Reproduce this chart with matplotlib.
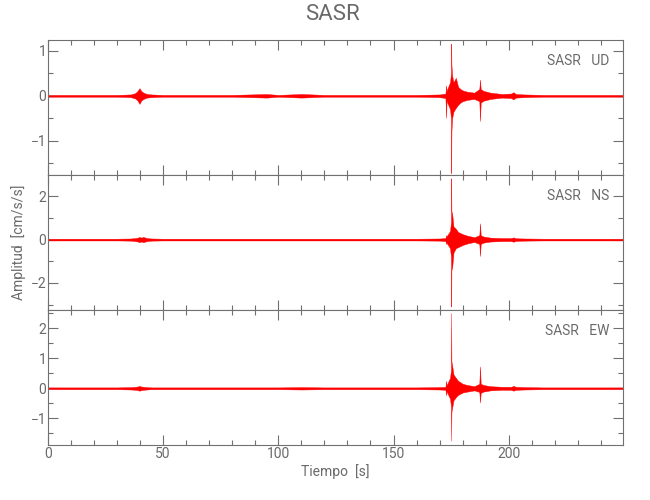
import matplotlib
matplotlib.use("Agg")
import matplotlib.pyplot as plt
from matplotlib.ticker import MultipleLocator, FixedLocator
import numpy as np

# envelope of each trace (time [s], upper / lower amplitude [cm/s/s])
t = [0, 10, 20, 30, 36, 38, 39, 39.8, 40.5, 41.5, 43, 45, 50, 60, 80, 95, 100, 110, 120,
     140, 160, 170, 172.5, 172.8, 173.0, 173.3, 174.5, 174.9, 175.0, 175.1, 175.4, 176,
     177, 178, 179, 180, 182, 185, 187.2, 187.5, 187.8, 189, 192, 197, 201, 202, 203,
     207, 215, 230, 249.5]

ud_top = [0.02, 0.02, 0.02, 0.02, 0.03, 0.06, 0.11, 0.17, 0.11, 0.07, 0.04, 0.03, 0.02, 0.02,
          0.02, 0.04, 0.02, 0.04, 0.02, 0.02, 0.02, 0.03, 0.05, 0.23, 0.10, 0.15, 0.30, 0.50,
          1.16, 0.70, 0.45, 0.30, 0.40, 0.20, 0.15, 0.12, 0.09, 0.07, 0.15, 0.36, 0.15, 0.11,
          0.07, 0.04, 0.05, 0.08, 0.04, 0.03, 0.02, 0.02, 0.02]
ud_bot = [-0.02, -0.02, -0.02, -0.02, -0.03, -0.06, -0.11, -0.18, -0.11, -0.07, -0.04, -0.03,
          -0.02, -0.02, -0.02, -0.04, -0.02, -0.04, -0.02, -0.02, -0.02, -0.03, -0.05, -0.49,
          -0.10, -0.15, -0.30, -0.50, -1.72, -0.80, -0.50, -0.35, -0.27, -0.20, -0.15, -0.12,
          -0.09, -0.07, -0.12, -0.56, -0.15, -0.11, -0.07, -0.04, -0.05, -0.08, -0.04, -0.03,
          -0.02, -0.02, -0.02]

ns_top = [0.04, 0.04, 0.04, 0.04, 0.05, 0.07, 0.09, 0.12, 0.09, 0.12, 0.07, 0.05, 0.04, 0.04,
          0.04, 0.04, 0.04, 0.04, 0.04, 0.04, 0.04, 0.05, 0.07, 0.20, 0.15, 0.20, 0.40, 0.80,
          2.83, 1.30, 1.21, 0.60, 0.50, 0.35, 0.30, 0.25, 0.18, 0.11, 0.20, 0.75, 0.20, 0.14,
          0.09, 0.07, 0.07, 0.10, 0.06, 0.05, 0.04, 0.04, 0.04]
ns_bot = [-0.04, -0.04, -0.04, -0.04, -0.05, -0.07, -0.09, -0.12, -0.09, -0.12, -0.07, -0.05,
          -0.04, -0.04, -0.04, -0.04, -0.04, -0.04, -0.04, -0.04, -0.04, -0.05, -0.07, -0.20,
          -0.15, -0.20, -0.40, -0.80, -3.09, -1.40, -1.32, -0.60, -0.40, -0.35, -0.30, -0.25,
          -0.18, -0.11, -0.20, -0.76, -0.20, -0.14, -0.09, -0.07, -0.07, -0.10, -0.06, -0.05,
          -0.04, -0.04, -0.04]

ew_top = [0.03, 0.03, 0.03, 0.03, 0.04, 0.05, 0.06, 0.08, 0.06, 0.05, 0.04, 0.03, 0.03, 0.03,
          0.03, 0.03, 0.03, 0.04, 0.03, 0.03, 0.03, 0.04, 0.05, 0.25, 0.10, 0.15, 0.35, 0.60,
          2.51, 0.90, 0.77, 0.46, 0.35, 0.25, 0.20, 0.15, 0.11, 0.07, 0.15, 0.73, 0.15, 0.11,
          0.07, 0.05, 0.05, 0.08, 0.05, 0.04, 0.03, 0.03, 0.03]
ew_bot = [-0.03, -0.03, -0.03, -0.03, -0.04, -0.05, -0.06, -0.08, -0.06, -0.05, -0.04, -0.03,
          -0.03, -0.03, -0.03, -0.03, -0.03, -0.04, -0.03, -0.03, -0.03, -0.04, -0.05, -0.23,
          -0.10, -0.15, -0.35, -0.60, -1.75, -0.80, -0.66, -0.40, -0.30, -0.22, -0.18, -0.14,
          -0.11, -0.07, -0.12, -0.47, -0.15, -0.11, -0.07, -0.05, -0.05, -0.08, -0.05, -0.04,
          -0.03, -0.03, -0.03]

labels = ["SASR   UD", "SASR   NS", "SASR   EW"]
ylims = [(-1.76, 1.24), (-3.25, 2.98), (-1.89, 2.61)]
yticks = [[-1, 0, 1], [-2, 0, 2], [-1, 0, 1, 2]]
yminor = [0.5, 1, 0.5]
xticks = [0, 50, 100, 150, 200]

gray = "#707070"
txt = "#6a6a6a"
plt.rcParams["font.family"] = ["Roboto", "DejaVu Sans"]

fig = plt.figure(figsize=(6.5, 5), dpi=100)
bottoms = [0.65, 0.38, 0.11]
traces = [(ud_top, ud_bot), (ns_top, ns_bot), (ew_top, ew_bot)]
axes = []
for i in range(3):
    ax = fig.add_axes([0.0734, bottoms[i], 0.885, 0.27])
    top, bot = traces[i]
    ax.fill_between(t, bot, top, color="red", linewidth=0.3, edgecolor="red")
    ax.plot([0, 249.5], [0, 0], color="red", linewidth=0.7)
    ax.set_xlim(0, 249.5)
    ax.set_ylim(*ylims[i])
    ax.xaxis.set_major_locator(FixedLocator(xticks))
    ax.xaxis.set_minor_locator(MultipleLocator(10))
    ax.yaxis.set_major_locator(FixedLocator(yticks[i]))
    ax.yaxis.set_minor_locator(MultipleLocator(yminor[i]))
    ax.tick_params(which="both", direction="in", top=True, right=True, colors=gray,
                   labelcolor=txt, labelsize=10, width=0.8)
    ax.tick_params(which="major", length=7.2, pad=1.5)
    ax.tick_params(which="minor", length=3.6)
    ax.tick_params(axis="y", pad=1.0)
    for s in ax.spines.values():
        s.set_color(gray)
        s.set_linewidth(0.8)
    if i < 2:
        ax.tick_params(labelbottom=False)
    ax.text(0.976, 0.844, labels[i], transform=ax.transAxes, ha="right", va="center",
            fontsize=10, color=txt)
    axes.append(ax)

axes[1].set_ylabel("Amplitud  [cm/s/s]", fontsize=10, color=txt)
axes[1].yaxis.set_label_coords(-0.037, 0.5)
axes[2].set_xlabel("Tiempo  [s]", fontsize=10, color=txt, labelpad=2)
fig.text(0.511, 0.97, "SASR", ha="center", va="center", fontsize=16, color=txt)

fig.savefig("out.png", dpi=100)
